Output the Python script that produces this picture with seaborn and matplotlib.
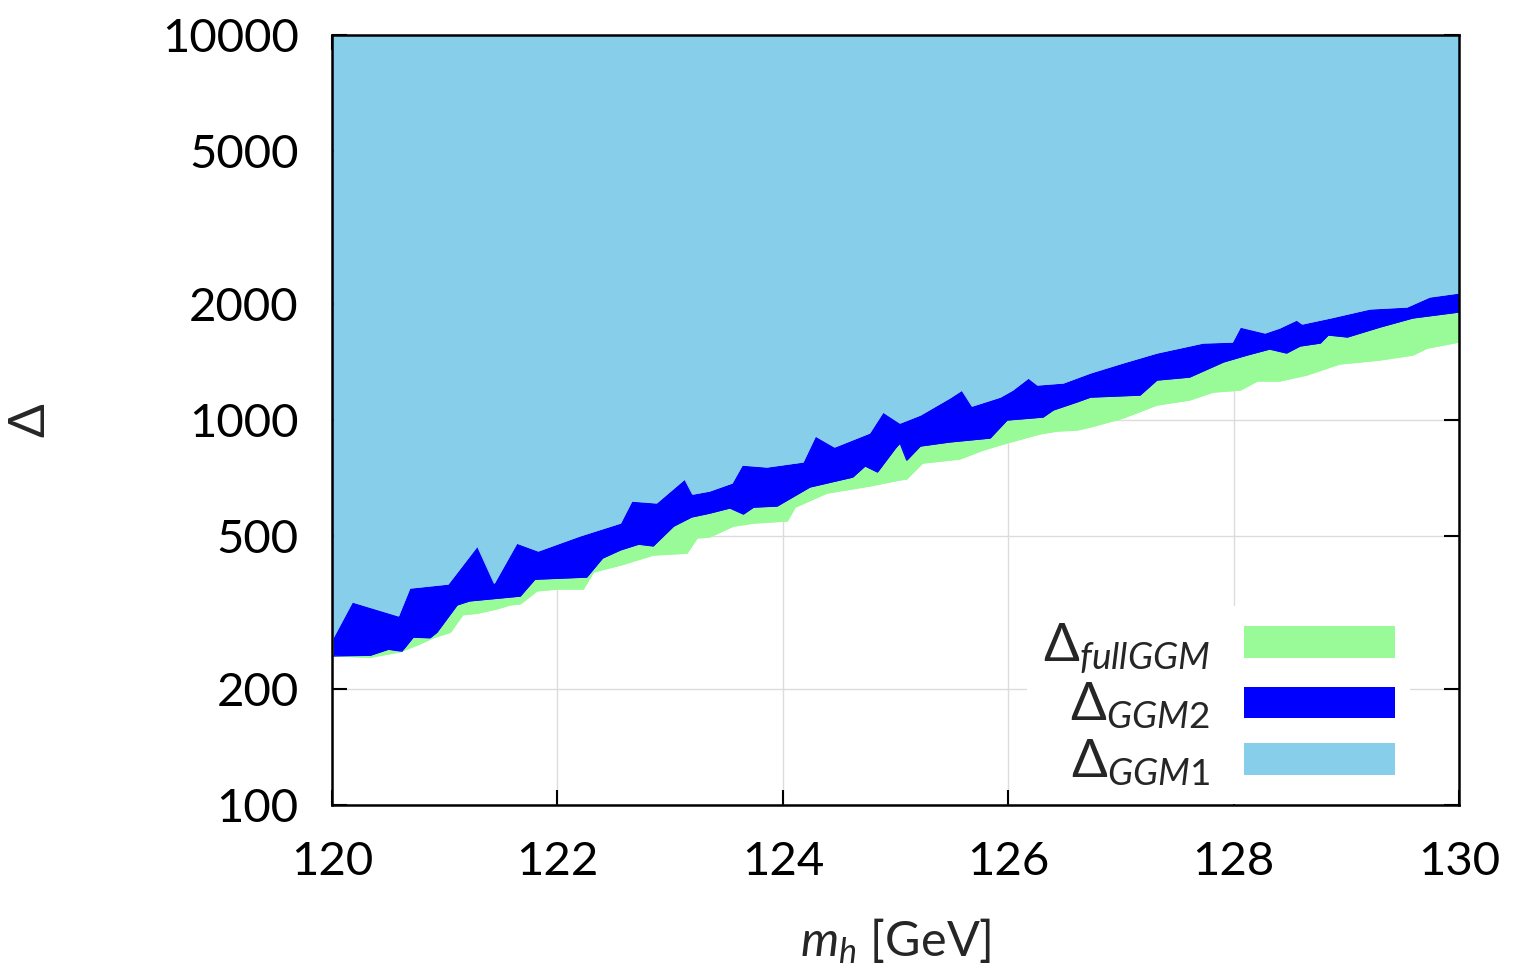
import matplotlib
matplotlib.use("Agg")
import matplotlib.pyplot as plt
from matplotlib.patches import Patch
import seaborn as sns
import pandas as pd

# Lower edge of the Delta_GGM1 region (top of the GGM2 band)
ggm1_mh = [120.01, 120.18, 120.59, 120.69, 121.03, 121.29, 121.44, 121.64, 121.83,
           122.20, 122.56, 122.66, 122.88, 123.13, 123.20, 123.35, 123.55, 123.64,
           123.86, 124.18, 124.29, 124.46, 124.77, 124.89, 125.04, 125.22, 125.48,
           125.59, 125.68, 125.93, 126.04, 126.18, 126.26, 126.49, 126.73, 127.02,
           127.32, 127.73, 127.99, 128.06, 128.28, 128.41, 128.56, 128.61, 128.86,
           129.21, 129.54, 129.74, 130.00]
ggm1_delta = [272, 337, 310, 366, 375, 471, 377, 479, 457,
              500, 540, 616, 609, 703, 642, 654, 686, 764,
              755, 778, 909, 851, 925, 1049, 982, 1030, 1140,
              1196, 1087, 1147, 1196, 1286, 1233, 1248, 1325, 1407,
              1493, 1585, 1594, 1744, 1683, 1734, 1819, 1776, 1841,
              1943, 1966, 2087, 2138]

# Lower edge of the Delta_GGM2 region
ggm2_mh = [120.01, 120.34, 120.50, 120.62, 120.72, 120.87, 120.93, 121.11, 121.22,
           121.67, 121.80, 122.26, 122.40, 122.56, 122.72, 122.85, 123.03, 123.19,
           123.35, 123.53, 123.65, 123.74, 123.95, 124.24, 124.62, 124.73, 124.84,
           125.00, 125.04, 125.10, 125.22, 125.48, 125.84, 125.99, 126.31, 126.40,
           126.61, 126.73, 127.17, 127.32, 127.61, 127.91, 128.12, 128.32, 128.47,
           128.59, 128.77, 128.84, 129.01, 129.30, 129.59, 130.00]
ggm2_delta = [244, 245, 254, 251, 273, 272, 281, 331, 339,
              349, 386, 391, 438, 460, 476, 471, 530, 560,
              573, 591, 570, 594, 598, 670, 711, 760, 733,
              846, 872, 787, 856, 877, 898, 1000, 1018, 1062,
              1114, 1147, 1161, 1270, 1293, 1415, 1475, 1529, 1493,
              1557, 1585, 1663, 1643, 1744, 1841, 1908]

# Lower edge of the full GGM region
full_mh = [120.01, 120.34, 120.60, 120.75, 120.90, 121.05, 121.16, 121.29, 121.46,
           121.58, 121.67, 121.82, 122.00, 122.23, 122.32, 122.56, 122.85, 123.15,
           123.24, 123.35, 123.56, 123.74, 124.04, 124.11, 124.39, 124.77, 125.04,
           125.10, 125.24, 125.57, 125.78, 125.99, 126.28, 126.43, 126.61, 126.73,
           127.02, 127.32, 127.61, 127.82, 128.06, 128.21, 128.41, 128.65, 128.94,
           129.30, 129.59, 129.72, 130.00]
full_delta = [244, 242, 250, 260, 272, 281, 312, 315, 323,
              331, 333, 360, 364, 364, 403, 420, 446, 451,
              494, 497, 530, 540, 547, 594, 646, 674, 699,
              703, 773, 792, 836, 872, 920, 936, 942, 959,
              1012, 1094, 1127, 1182, 1196, 1263, 1263, 1309, 1398,
              1432, 1475, 1538, 1594]

labels = [r"$\Delta_{fullGGM}$", r"$\Delta_{GGM2}$", r"$\Delta_{GGM1}$"]
colors = ["#98fb98", "#0000ff", "#87ceeb"]
y_top = 10000
x_ticks = [120, 122, 124, 126, 128, 130]
y_ticks = [100, 200, 500, 1000, 2000, 5000, 10000]

sns.set_theme(style="ticks")
plt.rcParams["font.family"] = ["Lato", "DejaVu Sans"]
plt.rcParams["mathtext.fontset"] = "custom"
plt.rcParams["mathtext.rm"] = "Lato"
plt.rcParams["mathtext.it"] = "Lato:italic"
plt.rcParams["mathtext.fallback"] = "stixsans"

fig = plt.figure(figsize=(15.21, 9.77), dpi=100)
ax = fig.add_axes([0.2183, 0.1760, 0.7409, 0.7882])

series = [
    (full_mh, full_delta),
    (ggm2_mh, ggm2_delta),
    (ggm1_mh, ggm1_delta),
]
for (mh, delta), col in zip(series, colors):
    df = pd.DataFrame({"mh": mh, "delta": delta})
    ax.fill_between(df["mh"], df["delta"], y_top, color=col, linewidth=0, zorder=2)
    sns.lineplot(data=df, x="mh", y="delta", ax=ax, color=col, linewidth=1.0,
                 estimator=None, sort=False, zorder=2.1)

ax.set_yscale("log")
ax.set_xlim(120, 130)
ax.set_ylim(100, 10000)
ax.set_xticks(x_ticks)
ax.set_xticklabels([str(v) for v in x_ticks])
ax.set_yticks(y_ticks)
ax.set_yticklabels([str(v) for v in y_ticks])
ax.yaxis.set_minor_locator(matplotlib.ticker.NullLocator())
ax.xaxis.set_minor_locator(matplotlib.ticker.NullLocator())

ax.grid(True, color="#dcdcdc", linewidth=1.0, zorder=0)
ax.set_axisbelow(True)
ax.tick_params(axis="both", which="major", direction="in", length=11, width=1.5,
               top=True, right=True, labelsize=34, pad=24, colors="black")
ax.tick_params(axis="x", pad=26)
for sp in ax.spines.values():
    sp.set_linewidth(1.8)
    sp.set_color("black")
    sp.set_zorder(5)

ax.set_xlabel(r"$m_h$ [GeV]", fontsize=35, labelpad=24)
ax.set_ylabel("Δ", fontsize=36, labelpad=78)

handles = [Patch(facecolor=c, edgecolor="none") for c in colors]
leg = ax.legend(handles, labels, loc="lower right", bbox_to_anchor=(0.957, 0.002),
                markerfirst=False, fontsize=38, frameon=True, fancybox=False,
                framealpha=1.0, facecolor="white", edgecolor="none",
                handlelength=2.85, handleheight=0.55, handletextpad=0.65,
                labelspacing=0.12, borderpad=0.3, borderaxespad=0)
leg.set_zorder(4)
for t in leg.get_texts():
    t.set_ha("right")

fig.savefig("out.png", dpi=100)
